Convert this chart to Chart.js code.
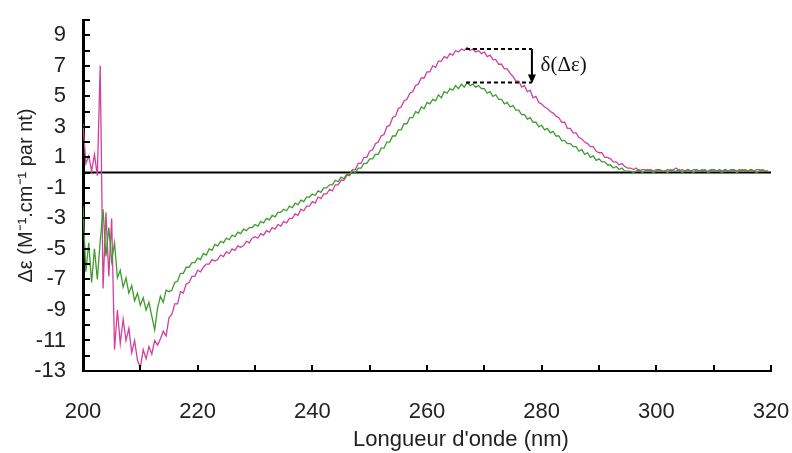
<!DOCTYPE html>
<html><head><meta charset="utf-8">
<script src="https://cdn.jsdelivr.net/npm/chart.js@4"></script>
<style>html,body{margin:0;padding:0;background:#fff}</style>
</head><body>
<canvas id="c" width="792" height="453"></canvas>
<script>
// ---- data (wavelength grid: 200 nm to 319.5 nm, step 0.5 nm) ----
const WL_START = 200;
const WL_STEP = 0.5;
const magentaValues = [
  3.2, 0.6, 1.1, 0.1, 1.2, -0.2, 7.0, -7.6, -2.6, -6.8,
  -3.0, -11.6, -9.0, -11.2, -9.6, -11.0, -10.2, -11.8, -11.0, -12.3,
  -12.8, -11.6, -12.2, -11.4, -11.9, -11.0, -11.3, -10.9, -10.4, -10.7,
  -9.5, -9.3, -8.6, -8.6, -7.8, -7.9, -7.3, -7.2, -6.8, -6.8,
  -6.4, -6.5, -6.2, -6.0, -6.0, -5.7, -5.8, -5.7, -5.4, -5.5,
  -5.2, -5.3, -5.0, -5.1, -4.8, -4.9, -4.8, -4.5, -4.6, -4.3,
  -4.2, -4.3, -4.0, -4.1, -3.8, -3.9, -3.6, -3.7, -3.4, -3.5,
  -3.2, -3.3, -3.0, -3.0, -2.7, -2.8, -2.4, -2.5, -2.2, -2.2,
  -1.9, -2.0, -1.6, -1.7, -1.4, -1.4, -1.1, -1.2, -0.8, -0.8,
  -0.5, -0.5, -0.2, -0.1, 0.2, 0.2, 0.6, 0.6, 1.0, 1.0,
  1.4, 1.5, 1.9, 2.0, 2.4, 2.5, 3.0, 3.1, 3.6, 3.7,
  4.2, 4.3, 4.7, 4.8, 5.2, 5.3, 5.7, 5.8, 6.2, 6.2,
  6.6, 6.6, 7.0, 6.9, 7.3, 7.3, 7.6, 7.5, 7.8, 7.7,
  8.0, 7.9, 8.1, 8.0, 8.2, 8.0, 8.1, 7.9, 8.0, 7.8,
  7.9, 7.6, 7.7, 7.4, 7.4, 7.1, 7.1, 6.8, 6.8, 6.5,
  6.3, 6.0, 6.0, 5.6, 5.7, 5.3, 5.4, 4.9, 5.0, 4.6,
  4.5, 4.3, 4.2, 4.0, 3.9, 3.7, 3.6, 3.3, 3.3, 2.9,
  2.9, 2.6, 2.6, 2.3, 2.2, 2.0, 1.9, 1.7, 1.7, 1.4,
  1.3, 1.3, 1.0, 1.0, 0.9, 0.7, 0.7, 0.5, 0.6, 0.4,
  0.3, 0.3, 0.2, 0.3, 0.1, 0.2, 0.2, 0.1, 0.2, 0.1,
  0.2, 0.2, 0.1, 0.1, 0.2, 0.1, 0.2, 0.3, 0.1, 0.2,
  0.1, 0.2, 0.1, 0.2, 0.2, 0.1, 0.2, 0.1, 0.1, 0.2,
  0.2, 0.1, 0.2, 0.1, 0.2, 0.1, 0.2, 0.2, 0.1, 0.2,
  0.1, 0.2, 0.1, 0.2, 0.1, 0.2, 0.2, 0.1, 0.1, 0.1
];
const greenValues = [
  -2.2, -6.5, -4.6, -7.2, -5.0, -7.0, -4.5, -2.4, -5.5, -3.6,
  -5.8, -4.6, -6.9, -6.4, -7.5, -6.9, -7.9, -7.4, -8.4, -7.9,
  -8.7, -8.2, -9.0, -8.5, -9.4, -10.3, -8.9, -8.1, -8.5, -7.7,
  -7.8, -7.7, -7.2, -7.1, -6.6, -6.6, -6.2, -6.2, -5.9, -5.9,
  -5.6, -5.7, -5.3, -5.4, -5.0, -5.1, -4.7, -4.8, -4.5, -4.6,
  -4.3, -4.4, -4.1, -4.2, -3.9, -4.0, -3.7, -3.8, -3.6, -3.6,
  -3.4, -3.5, -3.2, -3.3, -3.0, -3.1, -2.8, -2.9, -2.6, -2.6,
  -2.4, -2.5, -2.2, -2.3, -2.0, -2.1, -1.8, -1.9, -1.6, -1.6,
  -1.4, -1.5, -1.2, -1.3, -1.0, -1.0, -0.8, -0.8, -0.5, -0.6,
  -0.3, -0.4, -0.1, -0.2, 0.1, 0.0, 0.3, 0.3, 0.6, 0.6,
  0.9, 0.9, 1.2, 1.2, 1.6, 1.6, 2.0, 2.0, 2.4, 2.4,
  2.8, 2.8, 3.2, 3.2, 3.6, 3.6, 4.0, 3.9, 4.3, 4.2,
  4.6, 4.5, 4.8, 4.7, 5.1, 4.9, 5.3, 5.2, 5.5, 5.4,
  5.7, 5.5, 5.8, 5.6, 5.9, 5.7, 5.8, 5.6, 5.7, 5.5,
  5.5, 5.2, 5.3, 5.0, 5.1, 4.8, 4.8, 4.5, 4.6, 4.3,
  4.4, 4.1, 4.1, 3.8, 3.8, 3.5, 3.6, 3.3, 3.3, 3.0,
  3.1, 2.8, 2.9, 2.6, 2.7, 2.4, 2.4, 2.1, 2.1, 1.9,
  1.9, 1.7, 1.7, 1.4, 1.5, 1.2, 1.3, 1.0, 1.1, 0.8,
  0.9, 0.7, 0.7, 0.5, 0.5, 0.3, 0.4, 0.2, 0.3, 0.1,
  0.1, 0.1, 0.0, 0.1, 0.2, 0.0, 0.1, 0.2, 0.1, 0.0,
  0.1, 0.2, 0.1, 0.1, 0.0, 0.2, 0.1, 0.1, 0.2, 0.0,
  0.1, 0.2, 0.1, 0.0, 0.2, 0.1, 0.1, 0.2, 0.0, 0.1,
  0.2, 0.1, 0.1, 0.0, 0.2, 0.1, 0.1, 0.2, 0.0, 0.1,
  0.2, 0.1, 0.1, 0.2, 0.1, 0.0, 0.1, 0.2, 0.1, 0.1
];
const xTickLabels = [200, 220, 240, 260, 280, 300, 320];
const yTickLabels = [-13, -11, -9, -7, -5, -3, -1, 1, 3, 5, 7, 9];
const xTitle = "Longueur d'onde (nm)";
const yTitle = "Δε (M⁻¹.cm⁻¹ par nt)";
// annotation: difference between the two maxima
const annoLabel = "δ(Δε)";
const annoMagentaMax = 8.1;
const annoGreenMax = 5.9;
const annoFrom = 266.8;
const annoTo = 278.3;
const annoLabelX = 279.8;
const annoLabelY = 7.0;

// ---- build ----
const toPoints = vals => vals.map((v, i) => ({ x: WL_START + i * WL_STEP, y: v }));
const SANS = "'Liberation Sans', Arial, sans-serif";

const extras = {
  id: 'extras',
  afterDraw(chart) {
    const ctx = chart.ctx, xs = chart.scales.x, ys = chart.scales.y;
    const area = chart.chartArea;
    ctx.save();
    ctx.strokeStyle = '#000';
    ctx.lineWidth = 2;
    ctx.beginPath();
    ys.ticks.forEach(t => {
      const py = Math.round(ys.getPixelForValue(t.value));
      ctx.moveTo(area.left, py); ctx.lineTo(area.left + 7, py);
    });
    xs.ticks.forEach(t => {
      const px = Math.round(xs.getPixelForValue(t.value));
      ctx.moveTo(px, area.bottom); ctx.lineTo(px, area.bottom - 6);
    });
    ctx.stroke();
    ctx.setLineDash([4, 3]);
    const x1 = xs.getPixelForValue(annoFrom), x2 = xs.getPixelForValue(annoTo);
    const yM = ys.getPixelForValue(annoMagentaMax), yG = ys.getPixelForValue(annoGreenMax);
    ctx.beginPath();
    ctx.moveTo(x1, yM); ctx.lineTo(x2, yM);
    ctx.moveTo(x1, yG); ctx.lineTo(x2, yG);
    ctx.stroke();
    ctx.setLineDash([]);
    ctx.beginPath();
    ctx.moveTo(x2, yM); ctx.lineTo(x2, yG - 5);
    ctx.stroke();
    ctx.fillStyle = '#000';
    ctx.beginPath();
    ctx.moveTo(x2 - 4, yG - 8); ctx.lineTo(x2 + 4, yG - 8); ctx.lineTo(x2, yG + 1);
    ctx.closePath(); ctx.fill();
    ctx.fillStyle = '#111';
    ctx.font = "21px 'Liberation Serif', 'Times New Roman', serif";
    ctx.textBaseline = 'middle';
    ctx.textAlign = 'left';
    ctx.fillText(annoLabel, xs.getPixelForValue(annoLabelX), ys.getPixelForValue(annoLabelY));
    ctx.fillStyle = '#222';
    ctx.font = "22px " + SANS;
    ctx.textAlign = 'center';
    ctx.textBaseline = 'alphabetic';
    ctx.fillText(xTitle, 461, 446);
    ctx.restore();
  }
};

new Chart(document.getElementById('c'), {
  type: 'scatter',
  data: {
    datasets: [
      { data: toPoints(greenValues), showLine: true, borderColor: '#3e9b2e', borderWidth: 1.3, pointRadius: 0, tension: 0 },
      { data: toPoints(magentaValues), showLine: true, borderColor: '#d23f9d', borderWidth: 1.3, pointRadius: 0, tension: 0 },
      { data: [{ x: 200, y: 0 }, { x: 320, y: 0 }], showLine: true, borderColor: '#000', borderWidth: 2, pointRadius: 0 }
    ]
  },
  options: {
    responsive: false,
    animation: false,
    devicePixelRatio: 1,
    layout: { padding: { left: 0, right: 21, top: 20, bottom: 0 } },
    plugins: { legend: { display: false }, tooltip: { enabled: false } },
    scales: {
      x: {
        type: 'linear', min: 200, max: 320,
        grid: { display: false },
        border: { display: true, color: '#000', width: 2 },
        ticks: {
          stepSize: 10, autoSkip: false, maxRotation: 0, padding: 20, color: '#222',
          font: { family: SANS, size: 22 },
          callback: v => xTickLabels.includes(v) ? String(v) : ''
        },
        afterFit: s => { s.height = 82; s.paddingLeft = 0; s.paddingRight = 0; }
      },
      y: {
        min: -13, max: 10,
        grid: { display: false },
        border: { display: true, color: '#000', width: 3 },
        ticks: {
          stepSize: 1, autoSkip: false, padding: 9, color: '#222',
          font: { family: SANS, size: 22 },
          callback: v => yTickLabels.includes(v) ? String(v) : ''
        },
        title: { display: true, text: yTitle, color: '#222', font: { family: SANS, size: 20 }, padding: { top: 14, bottom: 0 } },
        afterFit: s => { s.width = 83; s.paddingTop = 0; s.paddingBottom = 0; }
      }
    }
  },
  plugins: [extras]
});
</script>
</body></html>
